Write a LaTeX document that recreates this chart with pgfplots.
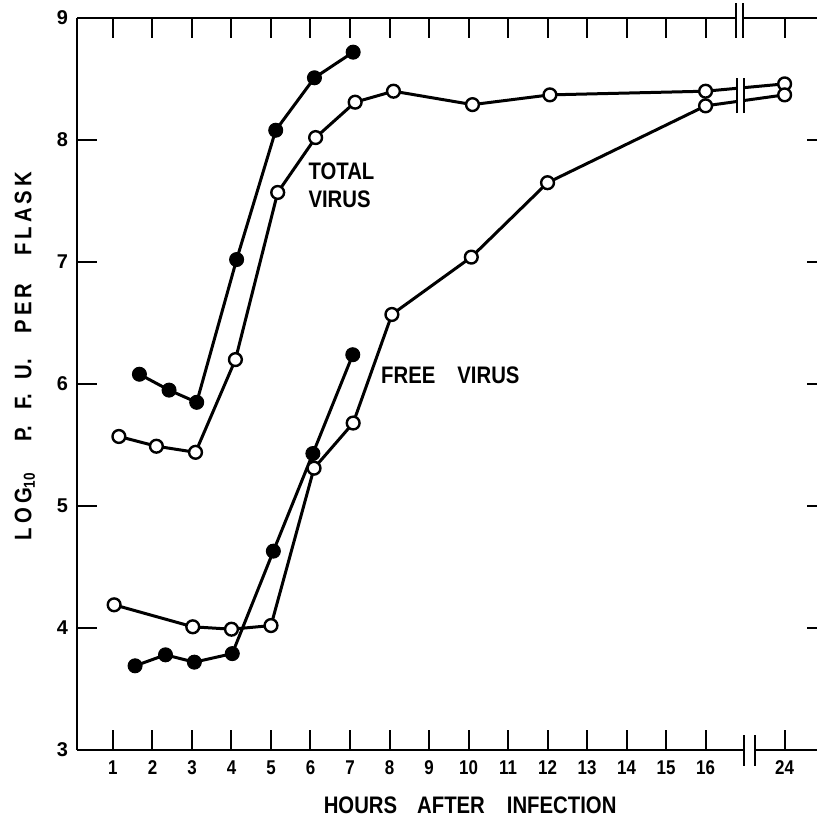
\documentclass[border=0pt]{standalone}
\usepackage{fontspec}
\setmainfont{Liberation Sans}
\newfontfamily\cond[FakeStretch=0.85]{Liberation Sans}
\usepackage{pgfplots}
\pgfplotsset{compat=1.18}
\begin{document}
\begin{tikzpicture}
\useasboundingbox (-38.5bp,-33.5bp) rectangle (370bp,375bp);
\begin{axis}[
  at={(0,0)}, anchor=south west,
  scale only axis, width=370bp, height=366bp,
  xmin=0.09, xmax=18.82, ymin=3, ymax=9,
  axis x line*=box, axis y line*=left,
  axis line style={line width=1.25bp, black},
  tick align=inside, major tick length=10bp,
  every tick/.style={line width=1bp, black},
  xtick={1,2,3,4,5,6,7,8,9,10,11,12,13,14,15,16,18},
  xticklabels={1,2,3,4,5,6,7,8,9,10,11,12,13,14,15,16,24},
  ytick={3,4,5,6,7,8,9},
  /pgf/number format/assume math mode=true,
  xticklabel style={font=\cond\bfseries\fontsize{10}{11}\selectfont, yshift=-2bp},
  yticklabel style={font=\bfseries\fontsize{10}{11}\selectfont, xshift=-1bp},
  clip=false,
]
% Total virus, filled
\addplot[line width=1.5bp, mark=*, mark size=3.5bp,
  mark options={fill=black, draw=black, line width=0.5bp}]
  coordinates {(1.67,6.08) (2.42,5.95) (3.12,5.85) (4.13,7.02) (5.12,8.08) (6.10,8.51) (7.08,8.72)};
% Total virus, open
\addplot[line width=1.5bp, mark=*, mark size=3.2bp,
  mark options={fill=white, draw=black, line width=1.2bp}]
  coordinates {(1.15,5.57) (2.10,5.49) (3.09,5.44) (4.10,6.20) (5.17,7.57) (6.13,8.02) (7.13,8.31) (8.10,8.40) (10.10,8.29) (12.06,8.37) (16.0,8.40) (18,8.46)};
% Free virus, open
\addplot[line width=1.5bp, mark=*, mark size=3.2bp,
  mark options={fill=white, draw=black, line width=1.2bp}]
  coordinates {(1.03,4.19) (3.02,4.01) (4.00,3.99) (5.00,4.02) (6.09,5.31) (7.08,5.68) (8.06,6.57) (10.07,7.04) (12.0,7.65) (16.0,8.28) (18,8.37)};
% Free virus, filled
\addplot[line width=1.5bp, mark=*, mark size=3.5bp,
  mark options={fill=black, draw=black, line width=0.5bp}]
  coordinates {(1.56,3.69) (2.33,3.78) (3.06,3.72) (4.02,3.79) (5.06,4.63) (6.06,5.43) (7.07,6.24)};
% right-side ticks
\draw[line width=1bp] (axis cs:18.82,4) -- (axis cs:18.56,4);
\draw[line width=1bp] (axis cs:18.82,5) -- (axis cs:18.56,5);
\draw[line width=1bp] (axis cs:18.82,6) -- (axis cs:18.56,6);
\draw[line width=1bp] (axis cs:18.82,7) -- (axis cs:18.56,7);
\draw[line width=1bp] (axis cs:18.82,8) -- (axis cs:18.56,8);
% coordinates for breaks
\coordinate (d1) at (axis cs:16.80,8.24); \coordinate (d2) at (axis cs:16.96,8.49);
\coordinate (d3) at (axis cs:16.79,8.22); \coordinate (d4) at (axis cs:16.79,8.51);
\coordinate (d5) at (axis cs:16.97,8.22); \coordinate (d6) at (axis cs:16.97,8.51);
\coordinate (t1) at (axis cs:16.78,8.97); \coordinate (t2) at (axis cs:16.94,9.03);
\coordinate (t3) at (axis cs:16.77,8.84); \coordinate (t4) at (axis cs:16.77,9.12);
\coordinate (t5) at (axis cs:16.95,8.84); \coordinate (t6) at (axis cs:16.95,9.12);
\coordinate (b1) at (axis cs:16.99,2.97); \coordinate (b2) at (axis cs:17.22,3.03);
\coordinate (b3) at (axis cs:16.97,2.87); \coordinate (b4) at (axis cs:16.97,3.125);
\coordinate (b5) at (axis cs:17.24,2.87); \coordinate (b6) at (axis cs:17.24,3.125);
% labels
\node[anchor=west, inner sep=0pt, align=left, font=\cond\bfseries\fontsize{12}{14}\selectfont]
  at (axis cs:5.94,7.63) {TOTAL\\VIRUS};
\node[anchor=west, inner sep=0pt, font=\cond\bfseries\fontsize{12}{14}\selectfont]
  at (axis cs:7.78,6.07) {FREE\hspace{11bp}VIRUS};
\node[rotate=90, inner sep=0pt, font=\cond\bfseries\fontsize{12}{14}\selectfont]
  at (axis cs:-1.23,6.23) {L\,O\,G\textsubscript{10}\hspace{15bp}P.\hspace{8bp}F.\hspace{7bp}U.\hspace{13bp}P\,E\,R\hspace{14bp}F\,L\,A\,S\,K};
\node[inner sep=0pt, font=\cond\bfseries\fontsize{12}{14}\selectfont]
  at (axis cs:10.04,2.549) {HOURS\hspace{10bp}AFTER\hspace{11bp}INFECTION};
\end{axis}
\fill[white] (d1) rectangle (d2);
\draw[line width=1bp] (d3) -- (d4);
\draw[line width=1bp] (d5) -- (d6);
\fill[white] (t1) rectangle (t2);
\draw[line width=1bp] (t3) -- (t4);
\draw[line width=1bp] (t5) -- (t6);
\fill[white] (b1) rectangle (b2);
\draw[line width=1bp] (b3) -- (b4);
\draw[line width=1bp] (b5) -- (b6);
\end{tikzpicture}
\end{document}
